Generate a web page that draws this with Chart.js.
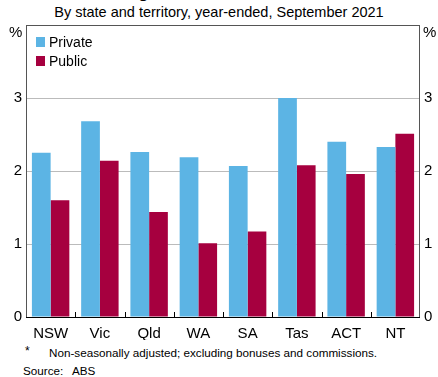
<!DOCTYPE html>
<html>
<head>
<meta charset="utf-8">
<script src="https://cdn.jsdelivr.net/npm/chart.js@4"></script>
<style>
  body { margin: 0; background: #fff; font-family: "Liberation Sans", Arial, sans-serif; }
  #wrap { position: relative; width: 438px; height: 377px; overflow: hidden; }
  #chartBox { position: absolute; left: 0; top: 0; width: 438px; height: 340px; }
  .txt { position: absolute; color: #000; white-space: nowrap; }
  .leg-item { position: absolute; left: 36px; font-size: 14px; display: flex; align-items: center; }
  .leg-item span.sw { display: inline-block; width: 9px; height: 10px; margin-right: 4px; }
</style>
</head>
<body>
<div id="wrap">
  <div class="txt" style="left:0;width:438px;text-align:center;top:-17px;font-size:17px;font-weight:bold;">Wage Price Index Growth*</div>
  <div class="txt" style="left:0;width:438px;text-align:center;top:4px;font-size:14.5px;">By state and territory, year-ended, September 2021</div>
  <div id="chartBox"><canvas id="chartWPI"></canvas></div>
  <div class="txt" style="left:9px;top:23px;font-size:15px;">%</div>
  <div class="txt" style="left:423px;top:23px;font-size:15px;">%</div>
  <div class="leg-item" style="top:34px;"><span class="sw" style="background:#5cb4e4"></span>Private</div>
  <div class="leg-item" style="top:53px;"><span class="sw" style="background:#a6003f"></span>Public</div>
  <div class="txt" style="left:25px;top:344px;font-size:12px;">*</div>
  <div class="txt" style="left:49px;top:346px;font-size:11.7px;">Non-seasonally adjusted; excluding bonuses and commissions.</div>
  <div class="txt" style="left:23px;top:364px;font-size:11.7px;">Source:</div>
  <div class="txt" style="left:72px;top:364px;font-size:11.7px;">ABS</div>
</div>
<script>
const estados = ['NSW', 'Vic', 'Qld', 'WA', 'SA', 'Tas', 'ACT', 'NT'];
const privado = [2.25, 2.68, 2.26, 2.19, 2.07, 3.0, 2.40, 2.33];
const publico = [1.60, 2.14, 1.44, 1.01, 1.17, 2.08, 1.96, 2.51];
const marcasY = [0, 1, 2, 3];

const COLOR_PRIVADO = '#5cb4e4';
const COLOR_PUBLICO = '#a6003f';

// borde del area y marcas cortas entre categorias
const marcoPlugin = {
    id: 'marco',
    afterDatasetsDraw(chart) {
        const { ctx, chartArea: a, scales } = chart;
        ctx.save();
        ctx.strokeStyle = '#555';
        ctx.lineWidth = 1;
        ctx.strokeRect(a.left + 0.5, a.top + 0.5, a.right - a.left - 1, a.bottom - a.top);
        ctx.strokeStyle = '#000';
        ctx.beginPath();
        for (let i = 1; i < estados.length; i++) {
            const x = Math.round(scales.x.getPixelForValue(i - 0.5)) + 0.5;
            ctx.moveTo(x, a.bottom);
            ctx.lineTo(x, a.bottom - 5);
        }
        ctx.moveTo(a.left, a.bottom + 0.5);
        ctx.lineTo(a.right, a.bottom + 0.5);
        ctx.stroke();
        ctx.restore();
    }
};

const ejeY = (pos, ancho) => ({
    position: pos,
    min: 0,
    max: 4,
    afterBuildTicks: (s) => { s.ticks = marcasY.map(v => ({ value: v })); },
    afterFit: (s) => { s.width = ancho; },
    border: { display: false },
    grid: { display: pos === 'left', color: '#bbb', drawTicks: false },
    ticks: {
        color: '#000',
        font: { family: 'Liberation Sans', size: 15 },
        padding: 4
    }
});

new Chart(document.getElementById('chartWPI'), {
    type: 'bar',
    data: {
        labels: estados,
        datasets: [
            { label: 'Private', data: privado, backgroundColor: COLOR_PRIVADO, borderWidth: 0 },
            { label: 'Public', data: publico, backgroundColor: COLOR_PUBLICO, borderWidth: 0 }
        ]
    },
    options: {
        responsive: true,
        maintainAspectRatio: false,
        animation: false,
        layout: { padding: { top: 25, left: 0, right: 0, bottom: 0 } },
        datasets: { bar: { categoryPercentage: 0.76, barPercentage: 1 } },
        plugins: { legend: { display: false }, tooltip: { enabled: false } },
        scales: {
            x: {
                border: { display: false },
                grid: { display: false },
                afterFit: (s) => { s.height = 23; },
                ticks: {
                    color: '#000',
                    font: { family: 'Liberation Sans', size: 15 },
                    padding: 0,
                    maxRotation: 0
                }
            },
            y: ejeY('left', 26),
            y2: ejeY('right', 18)
        }
    },
    plugins: [marcoPlugin]
});
</script>
</body>
</html>
